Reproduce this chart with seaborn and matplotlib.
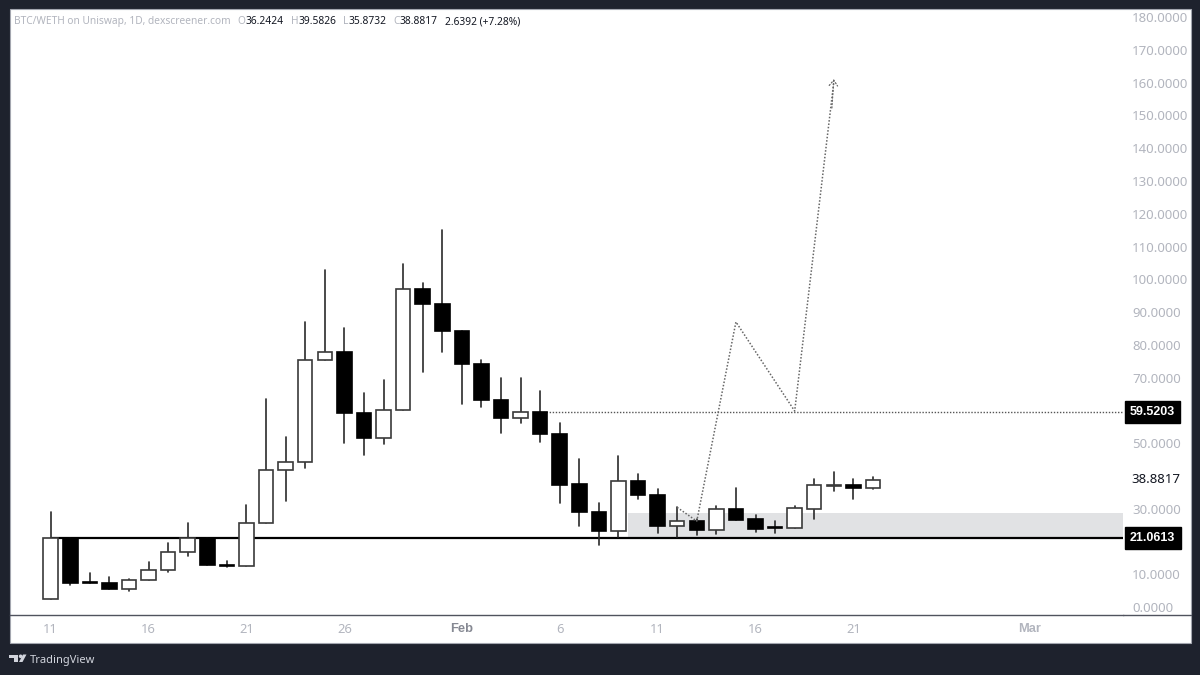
"""BTC/WETH daily candles with a drawn breakout path."""
import matplotlib
matplotlib.use('Agg')
import matplotlib.pyplot as plt
from matplotlib.patches import Circle, Polygon, Rectangle
from matplotlib.transforms import Affine2D
import pandas as pd
import seaborn as sns

opens = [2.4, 21.15, 7.5, 7.4, 5.4, 8.1, 11.2, 16.7, 21.15, 12.8, 12.5,
         25.6, 41.8, 44.2, 75.4, 77.9, 59.3, 51.7, 60.1, 97.2, 92.5, 84.2,
         74.1, 63.2, 57.6, 59.6, 52.8, 37.4, 29.0, 23.2, 38.5, 34.2, 24.8,
         26.2, 23.4, 29.8, 26.9, 24.3, 24.2, 30.0, 37.0, 37.2, 36.2424]
highs = [28.9, 21.15, 10.3, 9.25, 8.5, 13.7, 19.4, 25.5, 21.15, 14.0, 31.1,
         63.5, 51.8, 87.0, 103.0, 85.0, 65.2, 69.3, 104.6, 98.8, 115.2, 84.2,
         75.3, 69.8, 69.8, 65.9, 56.1, 45.2, 31.6, 46.1, 40.6, 35.9, 30.4,
         27.0, 30.9, 36.2, 28.0, 26.2, 30.9, 39.2, 41.1, 39.0, 39.5826]
lows = [2.4, 6.7, 7.2, 5.4, 5.0, 8.1, 10.8, 15.7, 12.7, 12.1, 12.5,
        25.6, 32.3, 42.5, 75.4, 50.1, 46.4, 49.6, 60.1, 71.8, 77.8, 61.9,
        61.1, 53.2, 56.2, 50.4, 31.7, 24.7, 19.0, 21.3, 33.0, 22.5, 21.3,
        22.1, 22.3, 26.4, 23.0, 22.6, 24.2, 26.9, 35.4, 33.0, 35.8732]
closes = [21.15, 7.2, 7.2, 5.4, 8.1, 11.2, 16.7, 21.15, 12.7, 12.4, 25.6,
          41.9, 44.2, 75.5, 77.9, 59.3, 51.6, 60.1, 97.2, 92.4, 84.2, 74.1,
          63.1, 57.6, 59.6, 52.7, 37.2, 29.0, 23.2, 38.5, 34.1, 24.7, 26.2,
          23.4, 29.8, 26.6, 23.9, 24.1, 30.1, 37.1, 37.2, 36.2, 38.8817]

date_ticks = [0, 5, 10, 15, 21, 26, 31, 36, 41, 50]
date_labels = ['11', '16', '21', '26', 'Feb', '6', '11', '16', '21', 'Mar']
price_ticks = [0, 10, 30, 50, 70, 80, 90, 100, 110, 120, 130, 140, 150, 160,
               170, 180]

support = 21.0613
resistance = 59.5203
last_close = 38.8817
zone_top = 28.7
zone_start = 29.5

path_x = [32, 33, 35, 38]
path_y = [30.4, 26.2, 87.0, 59.8]
target_x = 40
target_y = 160.3

DARK = '#1e222d'
GREY = '#b2b5be'
FONT = 'Noto Sans'
BOLD_FONT = 'Liberation Sans'

df = pd.DataFrame({'open': opens, 'high': highs, 'low': lows, 'close': closes})
df['day'] = df.index
wicks = df.melt(id_vars='day', value_vars=['low', 'high'], value_name='price')
path = pd.DataFrame({'x': path_x + [target_x], 'y': path_y + [target_y]})

sns.set_style('white')
plt.rcParams['font.family'] = [FONT, 'DejaVu Sans']

W, H = 1200, 675
fig = plt.figure(figsize=(12, 6.75), dpi=100, facecolor=DARK)

# white chart panel behind the axes and the price scale
fig.add_artist(Rectangle((9.5 / W, 1 - 643 / H), 1181.5 / W, 634 / H,
                         transform=fig.transFigure, facecolor='white',
                         edgecolor='#a3a6af', linewidth=0.8, zorder=-5))

ax = fig.add_axes([9.5 / W, 1 - 615 / H, 1113.5 / W, 606 / H])
ax.patch.set_alpha(0)
for side in ['top', 'left', 'right']:
    ax.spines[side].set_visible(False)
ax.spines['bottom'].set_color('#50535e')
ax.spines['bottom'].set_linewidth(1)
fig.add_artist(plt.Line2D([1123 / W, 1191 / W], [1 - 615 / H] * 2,
                          color='#50535e', linewidth=1, zorder=-4))

# zone and levels
ax.fill_between([zone_start, 54.77], support, zone_top, color='#e1e2e4',
                linewidth=0, zorder=1)
ax.plot([0, 54.77], [support, support], color='black', linewidth=1.6, zorder=2)
ax.plot([25, 54.77], [resistance, resistance], color='#555555', linewidth=1,
        linestyle=(0, (1, 1.2)), zorder=2)

# candles
sns.lineplot(data=wicks, x='day', y='price', units='day', estimator=None,
             color='#2a2a2a', linewidth=1.2, legend=False, ax=ax, zorder=3)
up = df['close'] >= df['open']
ax.bar(df['day'], (df['close'] - df['open']).abs(), bottom=df[['open', 'close']].min(axis=1),
       width=0.74, color=['white' if u else 'black' for u in up],
       edgecolor=['#3a3a3a' if u else 'black' for u in up], linewidth=1.2, zorder=4)

# drawn path
sns.lineplot(data=path, x='x', y='y', sort=False, estimator=None, color='#666666',
             linewidth=1.1, linestyle=(0, (1, 1.2)), legend=False, ax=ax, zorder=5)
ax.annotate('', xy=(target_x, target_y + 0.8), xytext=(path_x[-1] + 1.9, target_y - 8),
            arrowprops=dict(arrowstyle='->,head_length=0.4,head_width=0.3',
                            color='#666666', linestyle=':', linewidth=0.9,
                            shrinkA=0, shrinkB=0), zorder=5)

ax.set_xlim(-2.104, 54.77)
ax.set_ylim(-2.44, 182.5)
ax.set_xlabel('')
ax.set_ylabel('')
ax.set_xticks(date_ticks)
ax.set_xticklabels(date_labels, fontsize=9.3, color=GREY)
for i in [4, 9]:
    ax.get_xticklabels()[i].set_fontfamily(BOLD_FONT)
    ax.get_xticklabels()[i].set_fontweight('bold')
ax.get_xticklabels()[4].set_color('#868993')
ax.tick_params(axis='x', length=0, pad=6)

ax.yaxis.tick_right()
ax.set_yticks(price_ticks)
ax.set_yticklabels([f'{p:.4f}' for p in price_ticks], fontsize=9.5, color=GREY)
ax.tick_params(axis='y', length=0, pad=6.5)

# price tags on the scale
trans = ax.get_yaxis_transform()
for level in [resistance, support]:
    ax.text(1.0062, level, f'{level:.4f}', transform=trans, fontsize=9, color='white',
            family=BOLD_FONT, fontweight='bold', va='center', ha='left', clip_on=False,
            zorder=7, bbox=dict(boxstyle='square,pad=0.42', facecolor='black',
                                edgecolor='black'))
ax.text(1.0075, last_close, f'{last_close:.4f}', transform=trans, fontsize=9.5,
        color='#131722', va='center', ha='left', clip_on=False)

# legend line at top left
x = 14 / W
y = 1 - 21.5 / H
renderer = fig.canvas.get_renderer()
for part, colour in [('BTC/WETH on Uniswap, 1D, dexscreener.com', GREY), ('O', GREY),
                     ('36.2424', '#131722'), ('H', GREY), ('39.5826', '#131722'),
                     ('L', GREY), ('35.8732', '#131722'), ('C', GREY),
                     ('38.8817', '#131722'), ('2.6392 (+7.28%)', '#131722')]:
    t = fig.text(x, y, part, fontsize=7.35, color=colour, va='center', ha='left')
    gap = 7 if colour == '#131722' or part.endswith('.com') else 0
    x += (t.get_window_extent(renderer).width + gap) / W

# footer logo and name
px_to_fig = Affine2D().scale(1 / W, -1 / H).translate(0, 1) + fig.transFigure
logo = [Polygon([(9, 654.5), (18, 654.5), (18, 662), (13.5, 662), (13.5, 658), (9, 658)]),
        Polygon([(19, 662), (22.5, 662), (26.5, 654.5), (23, 654.5)]),
        Circle((20.6, 656.3), 1.8)]
for shape in logo:
    shape.set_transform(px_to_fig)
    shape.set_facecolor('#d1d4dc')
    shape.set_edgecolor('none')
    fig.add_artist(shape)
fig.text(30 / W, 1 - 660 / H, 'TradingView', fontsize=8, color='#d1d4dc',
         va='center', ha='left')

fig.savefig('out.png', dpi=100, facecolor=DARK)
plt.close(fig)
